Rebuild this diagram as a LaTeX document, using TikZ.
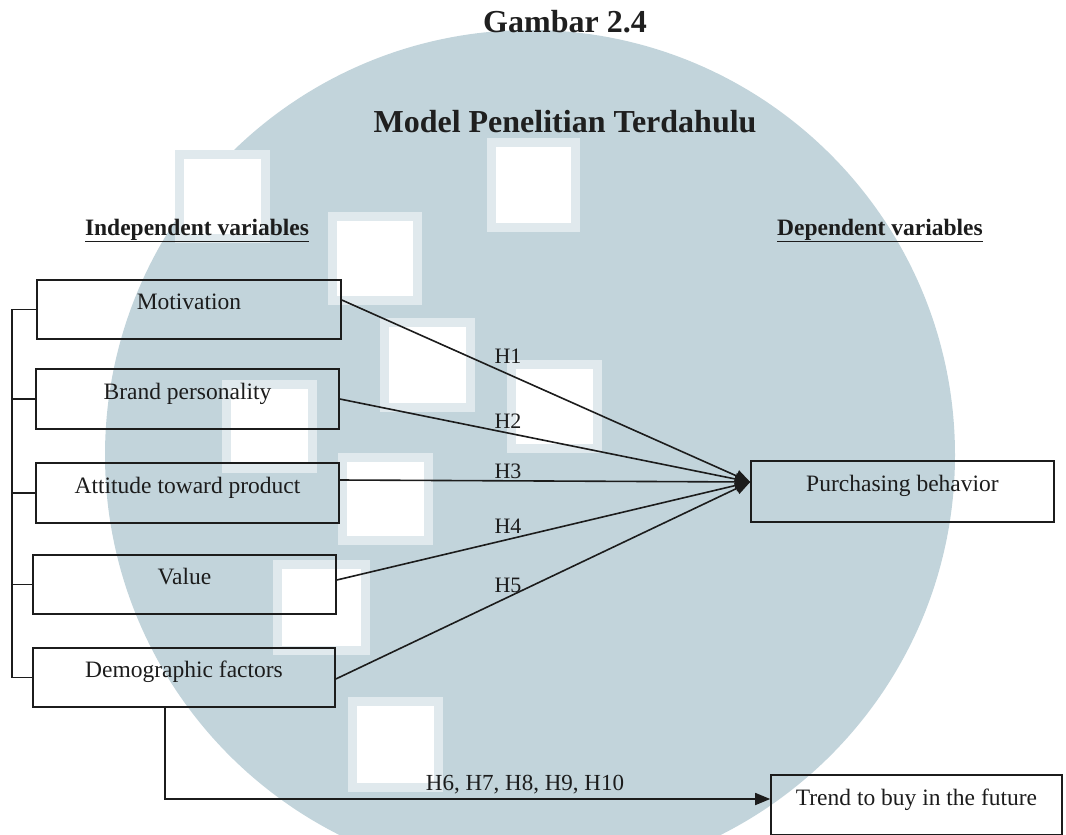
\documentclass[tikz,border=0pt]{standalone}
\usepackage{fontspec}
\setmainfont{Liberation Serif}
\usetikzlibrary{arrows.meta,calc}
\definecolor{wm}{RGB}{194,212,219}
\definecolor{wmedge}{RGB}{224,233,237}
\definecolor{ink}{RGB}{28,28,28}
\begin{document}
\begin{tikzpicture}[x=1pt,y=-1pt,
  box/.style={draw=ink, line width=1.6pt, inner sep=0pt, text height=9pt, text depth=9pt,
              font=\fontsize{23.5}{28}\selectfont, text=ink},
  conn/.style={draw=ink, line width=1.6pt},
  tip/.style={-{Triangle[length=15pt,width=12pt]}},
  hlab/.style={font=\fontsize{22}{26}\selectfont, text=ink, anchor=base, inner sep=0pt},
  heading/.style={font=\fontsize{23.5}{28}\bfseries\selectfont, text=ink, anchor=base, inner sep=0pt},
  title/.style={font=\fontsize{32}{38}\bfseries\selectfont, text=black!88, anchor=base, inner sep=0pt},
  sqouter/.style={fill=wmedge, draw=none},
  sqinner/.style={fill=white, draw=none}
]
\useasboundingbox (0,0) rectangle (1066,835);
% watermark
\begin{scope}
\clip (0,0) rectangle (1066,835);
\fill[wm] (530,455) circle[radius=425];
\foreach \a/\b/\c/\d in {487/138/580/232, 328/212/422/305, 380/318/475/412, 507/360/602/453,
  222/380/317/473, 338/453/433/545, 273/560/370/655, 348/697/443/792, 175/150/270/243}{
  \fill[sqouter] (\a,\b) rectangle (\c,\d);
  \fill[sqinner] (\a+9,\b+9) rectangle (\c-9,\d-9);
}
\end{scope}

% titles
\node[title] (gam) at (565,32) {Gambar 2.4};
\node[title] (mod) at (565,132) {Model Penelitian Terdahulu};
\node[heading] (ind) at (197,235) {\underline{Independent variables}};
\node[heading] (dep) at (880,235) {\underline{Dependent variables}};

% boxes
\node[box, minimum width=304pt, minimum height=59pt] (mot) at (189,309.5) {Motivation};
\node[box, minimum width=303pt, minimum height=60pt] (bra) at (187.5,399) {Brand personality};
\node[box, minimum width=303pt, minimum height=60pt] (att) at (187.5,493) {Attitude toward product};
\node[box, minimum width=303pt, minimum height=59pt] (val) at (184.5,584.5) {Value};
\node[box, minimum width=302pt, minimum height=59pt] (dem) at (184,677.5) {Demographic factors};
\node[box, minimum width=303pt, minimum height=61pt] (pur) at (902.5,491.5) {Purchasing behavior};
\node[box, minimum width=291pt, minimum height=60pt] (tre) at (916.5,805) {Trend to buy in the future};

% bracket on the left
\coordinate (brk) at (12,0);
\draw[conn] (mot.west) -| (brk |- dem.west) -- (dem.west);
\draw[conn] (bra.west) -- (bra.west -| brk);
\draw[conn] (att.west) -- (att.west -| brk);
\draw[conn] (val.west) -- (val.west -| brk);

% converging arrows
\coordinate (pin) at ($(pur.west)+(0,-9.5)$);
\draw[conn,tip] ($(mot.east)+(0,-9.5)$) -- (pin);
\draw[conn,tip] (bra.east) -- (pin);
\draw[conn,tip] ($(att.east)+(0,-13)$) -- (pin);
\draw[conn,tip] ($(val.east)+(0,-4.5)$) -- (pin);
\draw[conn,tip] ($(dem.east)+(0,1.5)$) -- (pin);

\node[hlab] (h1) at (508,363) {H1};
\node[hlab] (h2) at (508,428) {H2};
\node[hlab] (h3) at (508,478) {H3};
\node[hlab] (h4) at (508,533) {H4};
\node[hlab] (h5) at (508,592) {H5};

% lower arrow
\draw[conn,tip] ($(dem.south)+(-19,0)$) |- ($(tre.west)+(0,-6)$);
\node[hlab, font=\fontsize{23}{27}\selectfont] (h6) at (525,790) {H6, H7, H8, H9, H10};
\end{tikzpicture}
\end{document}
